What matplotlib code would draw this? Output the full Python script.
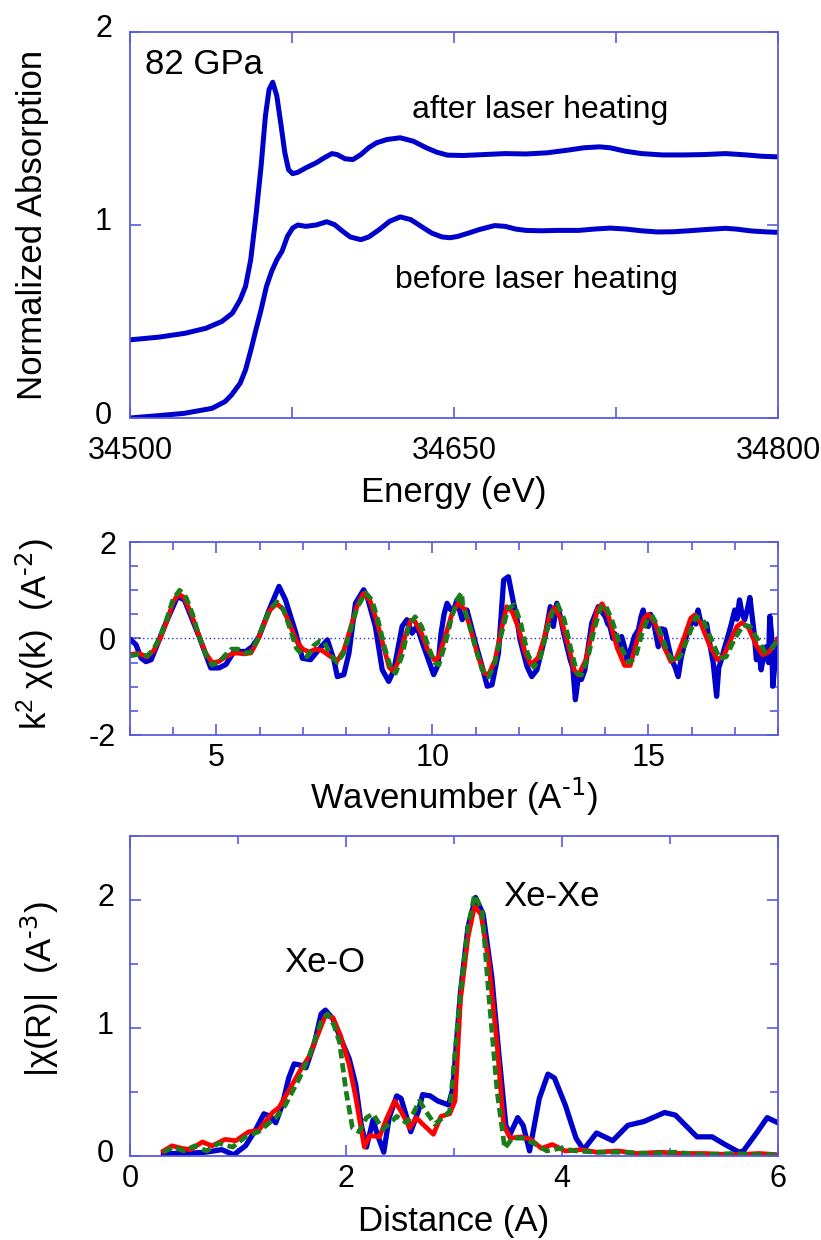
import numpy as np
import matplotlib
matplotlib.use('Agg')
import matplotlib.pyplot as plt
from matplotlib.ticker import MultipleLocator, FixedLocator
from matplotlib.transforms import ScaledTranslation

plt.rcParams['font.family'] = ['Liberation Sans', 'DejaVu Sans']
plt.rcParams['mathtext.default'] = 'regular'
plt.rcParams['axes.unicode_minus'] = False

# ---------------- XANES (top panel) ----------------
energy_before = [34500, 34513, 34525, 34538, 34544, 34547, 34551, 34553.5, 34556, 34558.3,
                 34560.7, 34563.2, 34565.6, 34568, 34570.4, 34572.9, 34575.3, 34577.7, 34581.4,
                 34586.2, 34591.1, 34594.7, 34598.4, 34602, 34606.9, 34610.5, 34615.4, 34620.2,
                 34625.1, 34630, 34634.8, 34639.7, 34644.5, 34648.2, 34651.8, 34656.7, 34661.6,
                 34668.8, 34673.7, 34678.5, 34683.4, 34690.7, 34698, 34707.7, 34715, 34722.3,
                 34729.5, 34736.8, 34744.1, 34751.4, 34758.7, 34766, 34775.7, 34780.5, 34787.8,
                 34795.1, 34800]
mu_before = [0.0, 0.012, 0.024, 0.05, 0.085, 0.119, 0.18, 0.249, 0.353, 0.457,
             0.561, 0.682, 0.76, 0.82, 0.864, 0.941, 0.984, 1.0, 0.993,
             1.0, 1.017, 1.002, 0.968, 0.938, 0.924, 0.938, 0.976, 1.019,
             1.042, 1.028, 0.993, 0.958, 0.938, 0.934, 0.941, 0.958, 0.976,
             0.997, 0.993, 0.979, 0.972, 0.97, 0.972, 0.972, 0.979, 0.984,
             0.979, 0.97, 0.964, 0.965, 0.97, 0.976, 0.983, 0.979, 0.969,
             0.964, 0.962]

energy_after = [34500, 34513.4, 34525.5, 34535.2, 34542.5, 34547.4, 34551, 34553.5, 34555.9,
                34558.3, 34560.7, 34562.7, 34564.4, 34566.1, 34568, 34570, 34571.7, 34573.4,
                34575.3, 34577.7, 34581.4, 34586.2, 34589.9, 34593.5, 34595.9, 34599.6, 34603.2,
                34606.9, 34610.5, 34614.2, 34619, 34625.1, 34631.2, 34637.2, 34642.1, 34647,
                34654.2, 34664, 34673.7, 34683.4, 34693.1, 34702.8, 34710.1, 34717.4, 34722.3,
                34729.5, 34736.8, 34746.5, 34756.3, 34766, 34775.7, 34785.4, 34792.7, 34800]
mu_after = [0.405, 0.419, 0.439, 0.465, 0.5, 0.543, 0.612, 0.682, 0.82,
            1.045, 1.304, 1.564, 1.702, 1.74, 1.668, 1.512, 1.374, 1.287,
            1.266, 1.273, 1.296, 1.322, 1.348, 1.37, 1.365, 1.343, 1.339,
            1.365, 1.4, 1.426, 1.443, 1.452, 1.434, 1.4, 1.377, 1.362,
            1.36, 1.365, 1.37, 1.368, 1.374, 1.388, 1.4, 1.405, 1.4,
            1.382, 1.37, 1.363, 1.363, 1.365, 1.37, 1.363, 1.356, 1.353]

# ---------------- k-space (middle panel) ----------------
k_data = [3.02, 3.14, 3.26, 3.37, 3.49, 3.6, 3.83, 4.1, 4.26, 4.6, 4.87, 5.06, 5.22, 5.41,
          5.68, 5.83, 5.99, 6.22, 6.45, 6.6, 6.84, 6.99, 7.18, 7.37, 7.57, 7.72, 7.8, 7.95,
          8.07, 8.22, 8.41, 8.49, 8.68, 8.84, 8.99, 9.11, 9.3, 9.41, 9.53, 9.64, 9.8, 10.03,
          10.13, 10.2, 10.27, 10.34, 10.42, 10.49, 10.57, 10.64, 10.69, 10.8, 11.0, 11.15,
          11.27, 11.38, 11.53, 11.65, 11.76, 11.88, 11.95, 12.03, 12.19, 12.3, 12.42, 12.61, 12.73,
          12.8, 12.88, 12.95, 13.04, 13.19, 13.25, 13.31, 13.38, 13.45, 13.53, 13.69, 13.84, 13.92,
          14.0, 14.06, 14.11, 14.18, 14.22, 14.27, 14.33, 14.38, 14.44, 14.5, 14.55, 14.61, 14.68,
          14.77, 14.83, 14.88, 14.94, 15.0, 15.05, 15.11, 15.17, 15.23, 15.3, 15.38, 15.45, 15.54,
          15.62, 15.69, 15.76, 15.84, 15.92, 16.04, 16.1, 16.15, 16.21, 16.27, 16.35, 16.42, 16.5,
          16.58, 16.63, 16.69, 16.76, 16.84, 16.92, 17.0, 17.05, 17.11, 17.17, 17.23, 17.29, 17.35,
          17.41, 17.45, 17.5, 17.55, 17.61, 17.67, 17.73, 17.78, 17.81, 17.85, 17.88, 17.94, 18.0]
chik_data = [-0.03, -0.13, -0.41, -0.48, -0.44, -0.2, 0.32, 0.87, 0.8, 0.04, -0.61, -0.61, -0.54, -0.27,
             -0.27, -0.17, 0.04, 0.59, 1.08, 0.8, 0.11, -0.41, -0.44, -0.23, -0.03, -0.44, -0.79, -0.75,
             -0.3, 0.73, 1.01, 0.87, 0.25, -0.65, -0.89, -0.65, 0.25, 0.39, 0.11, 0.25, -0.17, -0.75,
             -0.55, 0.1, 0.5, 0.73, 0.6, 0.59, 0.8, 0.55, 0.39, 0.59, -0.1, -0.58,
             -0.99, -0.96, -0.3, 1.21, 1.28, 0.73, 0.45, -0.03, -0.58, -0.79, -0.65, 0.04, 0.66,
             0.25, 0.73, 0.5, 0.11, -0.44, -0.6, -1.27, -0.79, -0.85, -0.65, 0.32, 0.66, 0.55,
             0.46, 0.3, 0.25, 0.0, 0.1, -0.03, -0.2, 0.04, -0.15, -0.44, -0.3, -0.17, 0.05,
             0.18, 0.45, 0.59, 0.35, 0.25, 0.5, 0.39, 0.1, -0.17, 0.2, 0.18, -0.1, -0.44,
             -0.6, -0.79, -0.4, -0.1, 0.2, 0.39, 0.3, 0.59, 0.35, 0.25, 0.3, -0.1, -0.5,
             -1.2, -0.6, -0.44, -0.2, 0.04, 0.3, 0.59, 0.4, 0.8, 0.5, 0.39, 0.6, 0.85,
             0.4, 0.1, -0.44, -0.2, -0.65, -0.35, -0.17, -0.5, 0.46, 0.1, -0.99, -0.44, -0.17]

k_fit = [3.0, 3.2, 3.4, 3.55, 3.7, 3.85, 4.0, 4.12, 4.25, 4.4, 4.6, 4.75, 4.9, 5.05, 5.25, 5.45,
         5.65, 5.8, 5.95, 6.1, 6.25, 6.4, 6.55, 6.7, 6.85, 7.0, 7.15, 7.3, 7.45, 7.65, 7.8, 7.95,
         8.1, 8.25, 8.4, 8.55, 8.7, 8.85, 9.0, 9.1, 9.2, 9.35, 9.5, 9.6, 9.75, 9.9, 10.05, 10.15,
         10.3, 10.45, 10.6, 10.75, 10.9, 11.05, 11.2, 11.3, 11.45, 11.6, 11.72, 11.85, 12.0, 12.15,
         12.28, 12.45, 12.6, 12.72, 12.82, 12.97, 13.15, 13.28, 13.38, 13.55, 13.7, 13.82, 13.93,
         14.08, 14.28, 14.45, 14.58, 14.75, 14.9, 15.0, 15.15, 15.35, 15.52, 15.65, 15.82, 15.98,
         16.08, 16.22, 16.42, 16.6, 16.75, 16.92, 17.05, 17.17, 17.32, 17.5, 17.65, 17.8, 17.9, 18.0]
chik_fit = [-0.33, -0.31, -0.38, -0.25, 0.0, 0.35, 0.75, 0.93, 0.85, 0.55, 0.05, -0.3, -0.5, -0.48, -0.36, -0.3,
            -0.32, -0.3, -0.05, 0.3, 0.6, 0.72, 0.6, 0.3, -0.05, -0.22, -0.28, -0.22, -0.25, -0.38, -0.46, -0.25,
            0.2, 0.65, 0.93, 0.8, 0.4, -0.1, -0.6, -0.68, -0.5, 0.0, 0.38, 0.35, 0.1, -0.25, -0.45, -0.38,
            0.05, 0.5, 0.73, 0.6, 0.15, -0.35, -0.72, -0.75, -0.45, 0.2, 0.66, 0.55, 0.2, -0.3,
            -0.54, -0.4, 0.05, 0.5, 0.64, 0.42, -0.15, -0.65, -0.76, -0.45, 0.15, 0.6, 0.72,
            0.45, -0.2, -0.56, -0.56, 0.0, 0.42, 0.5, 0.32, -0.15, -0.48, -0.4, 0.0, 0.42,
            0.49, 0.3, -0.15, -0.44, -0.35, 0.0, 0.25, 0.33, 0.22, -0.15, -0.34, -0.27, -0.15, 0.0]

k_fit2 = [3.0, 3.2, 3.4, 3.55, 3.7, 3.85, 4.0, 4.15, 4.3, 4.45, 4.6, 4.75, 4.9, 5.05, 5.2, 5.35,
          5.5, 5.65, 5.8, 5.95, 6.1, 6.25, 6.4, 6.55, 6.7, 6.85, 7.0, 7.1, 7.25, 7.4, 7.5, 7.65,
          7.8, 7.95, 8.1, 8.25, 8.45, 8.6, 8.75, 8.9, 9.05, 9.15, 9.3, 9.45, 9.6, 9.75, 9.9, 10.05,
          10.15, 10.3, 10.45, 10.6, 10.68, 10.7, 10.85, 11.0, 11.15, 11.3, 11.45, 11.6, 11.75, 11.9,
          12.05, 12.2, 12.35, 12.5, 12.65, 12.8, 12.9, 13.05, 13.2, 13.35, 13.45, 13.6, 13.75, 13.9,
          14.0, 14.15, 14.35, 14.55, 14.7, 14.85, 15.0, 15.1, 15.25, 15.45, 15.6, 15.75, 15.95,
          16.1, 16.25, 16.45, 16.65, 16.8, 17.0, 17.2, 17.35, 17.55, 17.7, 17.85, 18.0]
chik_fit2 = [-0.36, -0.33, -0.36, -0.22, 0.05, 0.4, 0.82, 1.0, 0.85, 0.5, 0.05, -0.32, -0.55, -0.5, -0.35, -0.22,
             -0.22, -0.3, -0.28, -0.03, 0.32, 0.62, 0.76, 0.6, 0.22, -0.2, -0.35, -0.38, -0.15, -0.05, -0.08, -0.35,
             -0.5, -0.3, 0.15, 0.62, 0.95, 0.8, 0.35, -0.2, -0.65, -0.72, -0.35, 0.25, 0.45, 0.25, -0.15, -0.5,
             -0.55, -0.1, 0.45, 0.85, 0.95, 0.72, 0.3, -0.2, -0.65, -0.8, -0.5, 0.1, 0.62, 0.7,
             0.3, -0.3, -0.6, -0.4, 0.15, 0.6, 0.7, 0.4, -0.2, -0.72, -0.76, -0.4, 0.2, 0.65,
             0.7, 0.4, -0.15, -0.5, -0.4, 0.1, 0.45, 0.45, 0.2, -0.3, -0.5, -0.35, 0.1,
             0.45, 0.42, 0.0, -0.42, -0.38, 0.0, 0.28, 0.25, -0.05, -0.28, -0.2, -0.02]

# ---------------- R-space (bottom panel) ----------------
r_data = [0.31, 0.51, 0.7, 0.85, 0.96, 1.07, 1.16, 1.24, 1.3, 1.35, 1.41, 1.47, 1.52, 1.58, 1.63,
          1.71, 1.77, 1.81, 1.88, 1.94, 2.03, 2.09, 2.14, 2.19, 2.25, 2.29, 2.35, 2.4, 2.47, 2.51,
          2.56, 2.6, 2.67, 2.71, 2.78, 2.85, 2.95, 2.99, 3.06, 3.13, 3.2, 3.27, 3.35, 3.42, 3.48,
          3.52, 3.59, 3.64, 3.7, 3.79, 3.87, 3.93, 4.03, 4.13, 4.2, 4.32, 4.47, 4.61, 4.76, 4.95,
          5.05, 5.25, 5.39, 5.51, 5.64, 5.68, 5.81, 5.9, 6.0]
chir_data = [0.02, 0.02, 0.03, 0.05, 0.01, 0.08, 0.2, 0.33, 0.31, 0.26, 0.4, 0.61, 0.72, 0.71, 0.69,
             0.89, 1.11, 1.14, 1.07, 0.94, 0.76, 0.56, 0.25, 0.07, 0.28, 0.17, 0.03, 0.3, 0.47, 0.45,
             0.31, 0.19, 0.35, 0.48, 0.47, 0.43, 0.4, 0.53, 1.28, 1.79, 2.02, 1.89, 1.4, 0.76, 0.24,
             0.17, 0.3, 0.24, 0.04, 0.45, 0.64, 0.61, 0.4, 0.14, 0.05, 0.18, 0.12, 0.24, 0.27, 0.34,
             0.32, 0.15, 0.15, 0.09, 0.03, 0.04, 0.19, 0.3, 0.26]

r_fit = [0.31, 0.39, 0.48, 0.56, 0.67, 0.76, 0.88, 0.98, 1.1, 1.19, 1.32, 1.38, 1.47, 1.57, 1.66,
         1.75, 1.81, 1.88, 1.95, 2.03, 2.09, 2.17, 2.22, 2.31, 2.37, 2.45, 2.51, 2.59, 2.65, 2.71,
         2.81, 2.88, 2.96, 3.01, 3.06, 3.13, 3.19, 3.25, 3.32, 3.4, 3.46, 3.52, 3.62, 3.71, 3.81,
         3.91, 4.03, 4.18, 4.32, 4.52, 4.69, 4.91, 5.1, 5.32, 5.59, 5.83, 6.0]
chir_fit = [0.04, 0.08, 0.06, 0.05, 0.11, 0.08, 0.13, 0.12, 0.19, 0.2, 0.34, 0.38, 0.51, 0.66, 0.78,
            0.97, 1.1, 1.08, 0.94, 0.71, 0.46, 0.07, 0.16, 0.15, 0.28, 0.43, 0.35, 0.22, 0.3, 0.25,
            0.17, 0.31, 0.33, 0.43, 1.22, 1.71, 1.95, 1.89, 1.53, 0.86, 0.24, 0.14, 0.15, 0.13, 0.06,
            0.09, 0.04, 0.05, 0.03, 0.04, 0.02, 0.03, 0.02, 0.02, 0.01, 0.02, 0.01]

r_fit2 = [0.31, 0.4, 0.5, 0.6, 0.71, 0.82, 0.95, 1.07, 1.19, 1.35, 1.44, 1.57, 1.66, 1.77, 1.83,
          1.89, 1.94, 2.0, 2.06, 2.12, 2.19, 2.25, 2.34, 2.4, 2.47, 2.56, 2.62, 2.68, 2.74, 2.82,
          2.9, 2.96, 3.06, 3.13, 3.19, 3.26, 3.32, 3.4, 3.47, 3.54, 3.64, 3.76, 3.86, 3.98, 4.13,
          4.32, 4.56, 4.81, 5.05, 5.29, 5.59, 5.83, 6.0]
chir_fit2 = [0.03, 0.07, 0.04, 0.08, 0.04, 0.1, 0.07, 0.15, 0.19, 0.3, 0.4, 0.61, 0.78, 1.05, 1.11,
             1.02, 0.89, 0.51, 0.22, 0.19, 0.3, 0.33, 0.21, 0.25, 0.31, 0.26, 0.33, 0.43, 0.35, 0.25,
             0.3, 0.35, 1.28, 1.79, 2.04, 1.92, 1.28, 0.5, 0.06, 0.14, 0.14, 0.09, 0.04, 0.06, 0.04,
             0.03, 0.03, 0.02, 0.03, 0.01, 0.02, 0.01, 0.01]

# ---------------- styles ----------------
frame_col = '#5a5ae0'
blue = '#0000cc'
red = '#ff0000'
green = '#1a7d1a'
tick_fs = 22
label_fs = 25

fig = plt.figure(figsize=(8.21, 12.4), dpi=100)
ax1 = fig.add_axes([0.1583, 0.6629, 0.7893, 0.3113])
ax2 = fig.add_axes([0.1583, 0.4073, 0.7893, 0.1556])
ax3 = fig.add_axes([0.1583, 0.0677, 0.7893, 0.2581])


def style(ax, xpad, ypad):
    for s in ax.spines.values():
        s.set_color(frame_col)
        s.set_linewidth(1.3)
    ax.tick_params(which='both', direction='in', top=True, right=True,
                   colors=frame_col, labelcolor='black', labelsize=tick_fs, width=1.2)
    ax.tick_params(which='major', length=8)
    ax.tick_params(which='minor', length=6)
    ax.tick_params(axis='x', which='both', pad=xpad)
    ax.tick_params(axis='y', which='both', pad=ypad)


def lift_yticklabels(ax, px):
    off = ScaledTranslation(0, px / 100.0, fig.dpi_scale_trans)
    for lbl in ax.get_yticklabels():
        lbl.set_transform(lbl.get_transform() + off)


# top panel
ax1.plot(energy_before, mu_before, color=blue, lw=3.6, solid_joinstyle='round')
ax1.plot(energy_after, mu_after, color=blue, lw=3.6, solid_joinstyle='round')
ax1.set_xlim(34500, 34800)
ax1.set_ylim(0, 2)
ax1.xaxis.set_major_locator(FixedLocator([34500, 34650, 34800]))
ax1.xaxis.set_minor_locator(FixedLocator([34575, 34725]))
ax1.yaxis.set_major_locator(MultipleLocator(1))
style(ax1, 13, 13)
ax1.tick_params(axis='x', which='minor', length=8)
lift_yticklabels(ax1, 6)
ax1.set_xlabel('Energy (eV)', fontsize=label_fs)
ax1.xaxis.set_label_coords(0.5, -0.192)
ax1.xaxis.label.set_va('center')
ax1.set_ylabel('Normalized Absorption', fontsize=label_fs)
ax1.yaxis.set_label_coords(-0.151, 0.5)
ax1.yaxis.label.set_va('center')
ax1.text(34507, 1.78, '82 GPa', fontsize=25, va='baseline', ha='left')
ax1.text(34690, 1.552, 'after laser heating', fontsize=23, va='baseline', ha='center')
ax1.text(34688, 0.674, 'before laser heating', fontsize=23, va='baseline', ha='center')

# middle panel
ax2.axhline(0, color='#3333cc', lw=1.0, ls=(0, (1, 2)))
ax2.plot(k_data, chik_data, color=blue, lw=3.8, solid_joinstyle='round')
ax2.plot(k_fit, chik_fit, color=red, lw=3.4, solid_joinstyle='round')
ax2.plot(k_fit2, chik_fit2, color=green, lw=3.4, ls=(0, (2, 1)))
ax2.set_xlim(3, 18)
ax2.set_ylim(-2, 2)
ax2.xaxis.set_major_locator(MultipleLocator(5))
ax2.xaxis.set_minor_locator(MultipleLocator(1))
ax2.yaxis.set_major_locator(MultipleLocator(2))
ax2.yaxis.set_minor_locator(MultipleLocator(0.5))
style(ax2, 6, 10)
ax2.set_xlabel(r'Wavenumber (A$^{\text{-1}}$)', fontsize=label_fs)
ax2.xaxis.set_label_coords(0.5, -0.321)
ax2.xaxis.label.set_va('center')
ax2.set_ylabel(r'k$^2$ χ(k)  (A$^{\text{-2}}$)', fontsize=label_fs)
ax2.yaxis.set_label_coords(-0.147, 0.52)
ax2.yaxis.label.set_va('center')

# bottom panel
ax3.plot(r_data, chir_data, color=blue, lw=3.8, solid_joinstyle='round')
ax3.plot(r_fit, chir_fit, color=red, lw=3.4, solid_joinstyle='round')
ax3.plot(r_fit2, chir_fit2, color=green, lw=3.4, ls=(0, (2, 1)))
ax3.set_xlim(0, 6)
ax3.set_ylim(0, 2.5)
ax3.xaxis.set_major_locator(MultipleLocator(2))
ax3.xaxis.set_minor_locator(MultipleLocator(1))
ax3.yaxis.set_major_locator(FixedLocator([0, 1, 2]))
ax3.yaxis.set_minor_locator(FixedLocator([0.5, 1.5, 2.5]))
style(ax3, 5.5, 11.5)
lift_yticklabels(ax3, 6)
ax3.set_xlabel('Distance (A)', fontsize=label_fs)
ax3.xaxis.set_label_coords(0.5, -0.206)
ax3.xaxis.label.set_va('center')
ax3.set_ylabel(r'|χ(R)|  (A$^{\text{-3}}$)', fontsize=label_fs)
ax3.yaxis.set_label_coords(-0.139, 0.52)
ax3.yaxis.label.set_va('center')
ax3.text(1.8, 1.44, 'Xe-O', fontsize=25, ha='center', va='baseline')
ax3.text(3.9, 1.95, 'Xe-Xe', fontsize=25, ha='center', va='baseline')

fig.savefig('out.png', dpi=100)
